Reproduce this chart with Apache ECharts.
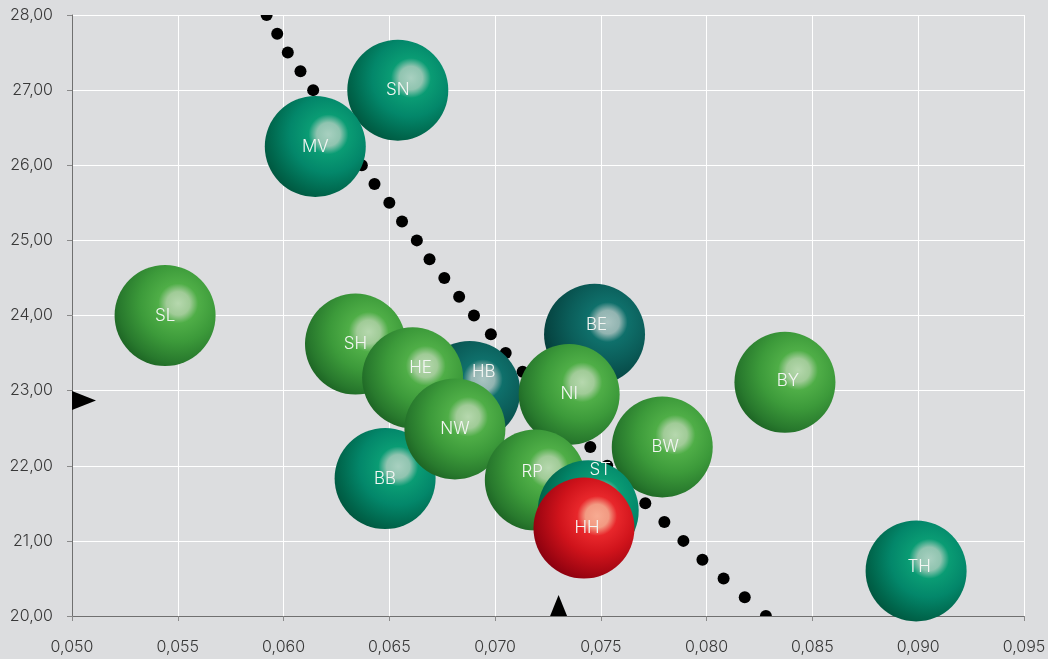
<!DOCTYPE html>
<html><head><meta charset="utf-8">
<script src="https://cdn.jsdelivr.net/npm/echarts@6/dist/echarts.min.js"></script>
<style>html,body{margin:0;padding:0;background:#dcdddf}#c{width:1048px;height:659px}</style>
</head><body><div id="c"></div>
<script>
// ---- data ----
const names  = ['SL','SN','MV','BB','SH','BE','HB','HE','NW','NI','BW','BY','RP','ST','HH','TH'];
const xVals  = [0.0544,0.0654,0.0615,0.0648,0.0634,0.0747,0.0688,0.0661,0.0681,0.0735,0.0779,0.0837,0.0719,0.0744,0.0742,0.0899];
const yVals  = [24.00,27.00,26.25,21.83,23.62,23.75,22.99,23.17,22.49,22.95,22.25,23.11,21.81,21.40,21.17,20.60];
const groups = ['green','teal','teal','teal','green','dark','dark','green','green','green','green','green','green','teal','red','teal'];
// dotted iso-line (one dot every 0.25 on y)
const trendY = [28.00,27.75,27.50,27.25,27.00,26.75,26.50,26.25,26.00,25.75,25.50,25.25,25.00,24.75,24.50,24.25,24.00,23.75,23.50,23.25,23.00,22.75,22.50,22.25,22.00,21.75,21.50,21.25,21.00,20.75,20.50,20.25,20.00];
const trendX = [0.0592,0.0597,0.0602,0.0608,0.0614,0.0619,0.0625,0.0631,0.0637,0.0643,0.0650,0.0656,0.0663,0.0669,0.0676,0.0683,0.0690,0.0698,0.0705,0.0713,0.0720,0.0728,0.0736,0.0745,0.0753,0.0762,0.0771,0.0780,0.0789,0.0798,0.0808,0.0818,0.0828];
// average markers
const avgX = 0.0730;
const avgY = 22.87;
// axes
const xMin = 0.050, xMax = 0.095, xStep = 0.005;
const yMin = 20, yMax = 28, yStep = 1;

// ---- styling ----
const palettes = {
  green: ['#b6d8ae','#a0cb97','#4fae47','#3c9a3a','#28792d','#1d6524'],
  teal:  ['#a8d0c0','#90c4b0','#0a9c74','#03876a','#00664c','#00573f'],
  dark:  ['#a9c4c1','#92b4b1','#0f706b','#0b5e5a','#064744','#033a37'],
  red:   ['#f7ab92','#f29a82','#e8272b','#cf131b','#a10612','#8a000f']
};
function ball(g){
  const p = palettes[g];
  return {type:'radial', x:0.63, y:0.38, r:0.68, colorStops:[
    {offset:0, color:p[0]},{offset:0.17, color:p[1]},{offset:0.29, color:p[2]},
    {offset:0.56, color:p[3]},{offset:0.86, color:p[4]},{offset:1, color:p[5]}]};
}
const labelShift = {BE:[2,-9], HB:[14,-19], HE:[8,-10], RP:[-3,-8], ST:[12,-41], TH:[3,-4], BW:[3,0], BY:[3,-1], HH:[3,0]};

const bubbles = names.map((n,i)=>({
  name:n, value:[xVals[i], yVals[i]],
  itemStyle:{color:ball(groups[i]), opacity:1},
  label:{offset: labelShift[n] || [0,0]}
}));

const FONT = 'Inter, "Liberation Sans", sans-serif';
const fmt = (d)=> (v)=> v.toFixed(d).replace('.', ',');
const axisCommon = {
  axisLine:{show:true, onZero:false, lineStyle:{color:'#707070', width:1}},
  axisTick:{show:true, length:5, lineStyle:{color:'#8a8a8a'}},
  splitLine:{show:true, lineStyle:{color:'#ffffff', width:1}},
  axisLabel:{color:'#383838', fontSize:16, fontWeight:300, fontFamily:FONT}
};

const chart = echarts.init(document.getElementById('c'), null, {renderer:'canvas'});
chart.setOption({
  backgroundColor:'#dcdddf',
  animation:false,
  grid:{left:72, right:24, top:15, bottom:43, containLabel:false, outerBoundsMode:'none'},
  xAxis:Object.assign({type:'value', min:xMin, max:xMax, interval:xStep}, axisCommon,
    {axisLabel:Object.assign({}, axisCommon.axisLabel, {formatter:fmt(3), margin:23})}),
  yAxis:Object.assign({type:'value', min:yMin, max:yMax, interval:yStep}, axisCommon,
    {axisLabel:Object.assign({}, axisCommon.axisLabel, {formatter:fmt(2), margin:19})}),
  series:[
    {
      type:'custom', clip:true, z:2, silent:true,
      data: trendX.map((x,i)=>[x, trendY[i]]),
      renderItem:(params, api)=>{
        const c = api.coord([api.value(0), api.value(1)]);
        return {type:'circle', shape:{cx:c[0], cy:c[1], r:6}, style:{fill:'#000000'}};
      }
    },
    {
      type:'scatter', z:3, clip:false, symbol:'circle', symbolSize:101, silent:true,
      itemStyle:{opacity:1},
      label:{show:true, position:'inside', formatter:'{b}', color:'#f3f6f3', fontSize:17, fontWeight:300, fontFamily:FONT},
      emphasis:{disabled:true},
      data: bubbles
    },
    {
      type:'scatter', z:4, clip:false, symbol:'triangle', silent:true,
      itemStyle:{color:'#000000', opacity:1},
      data:[
        {value:[xMin, avgY], symbolSize:[19,24], symbolRotate:-90, symbolOffset:[12,0]},
        {value:[avgX, yMin], symbolSize:[17,21], symbolOffset:[0,-10.5]}
      ]
    }
  ]
});
</script>
</body></html>
